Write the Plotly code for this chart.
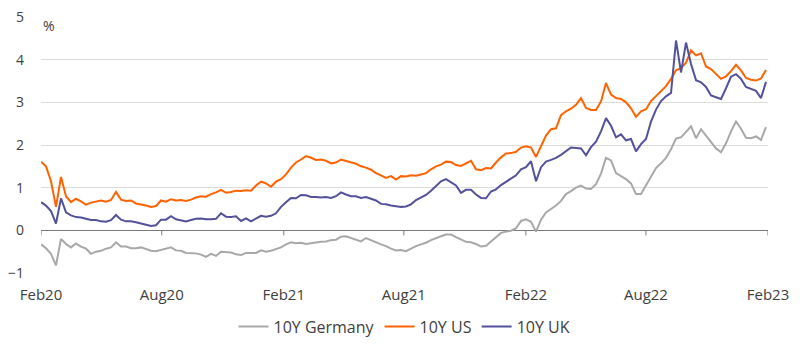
import pandas as pd
import plotly.graph_objects as go

# Evenly spaced observation dates (about weekly), Feb 2020 - end Jan 2023
dates = pd.date_range("2020-02-01", "2023-01-29", periods=146)

us_10y = [
    1.61, 1.50, 1.15, 0.55, 1.25, 0.80, 0.66, 0.74, 0.68, 0.60,
    0.65, 0.68, 0.70, 0.67, 0.71, 0.90, 0.72, 0.69, 0.70, 0.63,
    0.61, 0.58, 0.55, 0.57, 0.70, 0.67, 0.73, 0.70, 0.71, 0.69,
    0.72, 0.77, 0.80, 0.79, 0.85, 0.89, 0.95, 0.88, 0.90, 0.93,
    0.92, 0.94, 0.93, 1.05, 1.14, 1.10, 1.02, 1.14, 1.20, 1.31,
    1.47, 1.59, 1.66, 1.74, 1.70, 1.65, 1.66, 1.63, 1.57, 1.59,
    1.66, 1.63, 1.60, 1.56, 1.50, 1.47, 1.42, 1.34, 1.29, 1.23,
    1.27, 1.19, 1.27, 1.26, 1.29, 1.28, 1.31, 1.34, 1.43, 1.50,
    1.54, 1.61, 1.60, 1.53, 1.51, 1.57, 1.63, 1.43, 1.41, 1.46,
    1.45, 1.59, 1.71, 1.80, 1.81, 1.84, 1.94, 1.97, 1.94, 1.72,
    1.98, 2.22, 2.37, 2.39, 2.70, 2.79, 2.85, 2.94, 3.10, 2.87,
    2.82, 2.82, 3.02, 3.45, 3.18, 3.10, 3.08, 3.00, 2.86, 2.66,
    2.79, 2.84, 3.03, 3.14, 3.27, 3.38, 3.55, 3.75, 3.80, 3.93,
    4.22, 4.10, 4.15, 3.84, 3.78, 3.67, 3.55, 3.61, 3.73, 3.88,
    3.75, 3.57, 3.53, 3.51, 3.56, 3.76,
]

uk_10y = [
    0.66, 0.58, 0.45, 0.16, 0.75, 0.42, 0.35, 0.31, 0.30, 0.27,
    0.24, 0.24, 0.21, 0.20, 0.24, 0.36, 0.25, 0.21, 0.21, 0.19,
    0.16, 0.14, 0.10, 0.12, 0.25, 0.25, 0.33, 0.26, 0.23, 0.21,
    0.24, 0.27, 0.28, 0.26, 0.26, 0.27, 0.40, 0.32, 0.31, 0.33,
    0.22, 0.28, 0.21, 0.27, 0.34, 0.32, 0.34, 0.40, 0.55, 0.66,
    0.76, 0.75, 0.83, 0.82, 0.78, 0.78, 0.77, 0.78, 0.76, 0.80,
    0.89, 0.84, 0.80, 0.80, 0.76, 0.78, 0.74, 0.70, 0.62, 0.61,
    0.58, 0.56, 0.55, 0.56, 0.61, 0.71, 0.77, 0.83, 0.93, 1.05,
    1.15, 1.20, 1.12, 1.05, 0.88, 0.95, 0.95, 0.84, 0.76, 0.75,
    0.91, 0.96, 1.06, 1.14, 1.20, 1.29, 1.43, 1.48, 1.62, 1.15,
    1.48, 1.61, 1.65, 1.70, 1.77, 1.86, 1.94, 1.93, 1.92, 1.76,
    1.95, 2.08, 2.32, 2.63, 2.45, 2.18, 2.25, 2.11, 2.14, 1.85,
    2.02, 2.14, 2.55, 2.83, 3.03, 3.14, 3.22, 4.45, 3.70, 4.40,
    3.90, 3.52, 3.47, 3.36, 3.16, 3.12, 3.08, 3.33, 3.60, 3.66,
    3.55, 3.36, 3.31, 3.27, 3.10, 3.48,
]

de_10y = [
    -0.33, -0.42, -0.55, -0.82, -0.20, -0.32, -0.40, -0.31, -0.38, -0.43,
    -0.55, -0.50, -0.48, -0.43, -0.40, -0.28, -0.38, -0.38, -0.42, -0.42,
    -0.40, -0.44, -0.48, -0.49, -0.46, -0.42, -0.40, -0.47, -0.48, -0.53,
    -0.54, -0.54, -0.57, -0.62, -0.55, -0.60, -0.50, -0.51, -0.52, -0.56,
    -0.58, -0.53, -0.53, -0.53, -0.47, -0.50, -0.48, -0.44, -0.40, -0.33,
    -0.28, -0.30, -0.29, -0.32, -0.30, -0.28, -0.27, -0.26, -0.23, -0.22,
    -0.15, -0.14, -0.18, -0.23, -0.26, -0.18, -0.23, -0.29, -0.33, -0.37,
    -0.43, -0.47, -0.46, -0.49, -0.43, -0.37, -0.33, -0.29, -0.23, -0.18,
    -0.14, -0.10, -0.10, -0.16, -0.21, -0.27, -0.28, -0.32, -0.38, -0.36,
    -0.26, -0.16, -0.06, -0.03, -0.01, 0.05, 0.22, 0.26, 0.20, -0.03,
    0.25, 0.42, 0.50, 0.58, 0.69, 0.85, 0.92, 1.00, 1.05, 0.98,
    0.97, 1.08, 1.33, 1.70, 1.64, 1.34, 1.27, 1.20, 1.10, 0.85,
    0.85, 1.05, 1.28, 1.46, 1.57, 1.70, 1.90, 2.15, 2.18, 2.30,
    2.44, 2.16, 2.37, 2.22, 2.07, 1.92, 1.83, 2.04, 2.32, 2.55,
    2.38, 2.17, 2.16, 2.20, 2.12, 2.42,
]

tick_dates = ["2020-02-01", "2020-08-01", "2021-02-01", "2021-08-01",
              "2022-02-01", "2022-08-01", "2023-02-01"]
tick_labels = ["Feb20", "Aug20", "Feb21", "Aug21", "Feb22", "Aug22", "Feb23"]
y_ticks = [-1, 0, 1, 2, 3, 4, 5]

FONT = "Open Sans"
TXT = "#404040"
AXIS = "#7A7A7A"

fig = go.Figure()
fig.add_trace(go.Scatter(x=dates, y=de_10y, name="10Y Germany", mode="lines",
                         line=dict(color="#A8A8A8", width=2)))
fig.add_trace(go.Scatter(x=dates, y=us_10y, name="10Y US", mode="lines",
                         line=dict(color="#FF6200", width=2)))
fig.add_trace(go.Scatter(x=dates, y=uk_10y, name="10Y UK", mode="lines",
                         line=dict(color="#525199", width=2)))

# small tick marks hanging below the zero line at each date tick
tick_shapes = [
    dict(type="line", xref="x", yref="y", x0=d, x1=d, ysizemode="pixel",
         yanchor=0, y0=0, y1=-5, line=dict(color=AXIS, width=1), layer="below")
    for d in tick_dates
]

fig.update_layout(
    width=800, height=354,
    margin=dict(l=41, r=32, t=17, b=80),
    paper_bgcolor="white", plot_bgcolor="white",
    font=dict(family=FONT, size=14, color=TXT),
    showlegend=True,
    legend=dict(orientation="h", x=0.5, xanchor="center", y=-0.205, yanchor="middle",
                font=dict(family=FONT, size=16, color=TXT)),
    xaxis=dict(range=["2020-02-01", "2023-02-01"], tickvals=tick_dates, ticktext=tick_labels,
               showgrid=False, showline=False, zeroline=False, ticks="",
               ticklabelstandoff=11, automargin=False,
               tickfont=dict(family=FONT, size=15, color=TXT)),
    yaxis=dict(range=[-1, 5], tickvals=y_ticks, showgrid=True, gridcolor="#DCDCDC",
               gridwidth=1, zeroline=True, zerolinecolor=AXIS, zerolinewidth=1.3,
               showline=False, ticks="",
               ticklabelstandoff=16, automargin=False,
               tickfont=dict(family=FONT, size=14, color=TXT)),
    shapes=tick_shapes,
    annotations=[dict(text="%", xref="paper", yref="y", x=0, y=4.8,
                      xanchor="left", yanchor="middle", showarrow=False,
                      font=dict(family=FONT, size=14, color=TXT))],
)

fig.write_html("out.html")
